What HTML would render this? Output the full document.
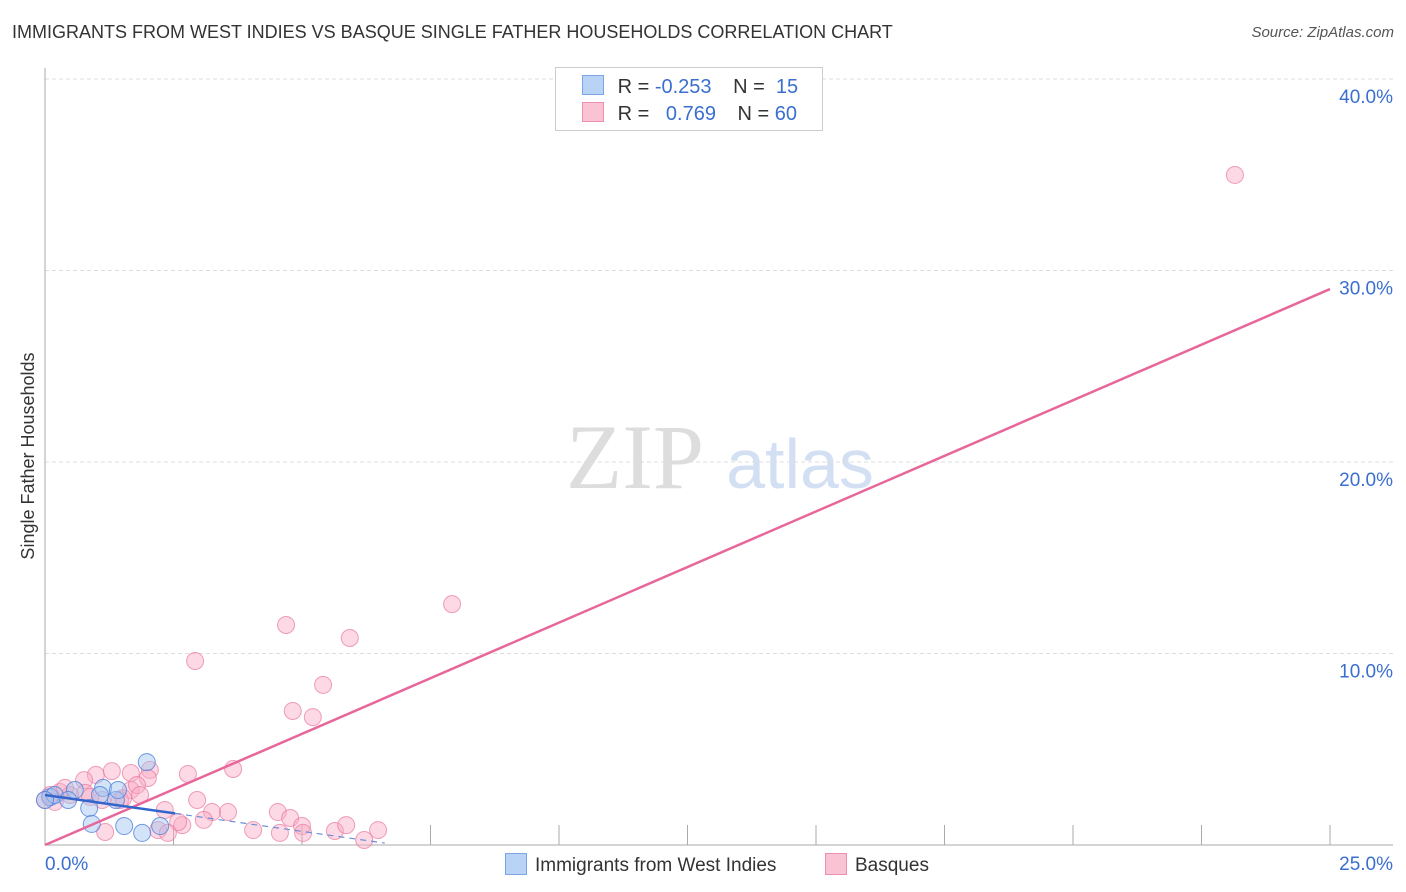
<!DOCTYPE html>
<html><head><meta charset="utf-8"><style>
body{margin:0;background:#fff;font-family:"Liberation Sans",sans-serif;}
#wrap{position:relative;width:1406px;height:892px;overflow:hidden;}
.t{position:absolute;white-space:nowrap;}
</style></head><body>
<div id="wrap">
<div class="t" style="left:12px;top:22px;font-size:18px;color:#333;">IMMIGRANTS FROM WEST INDIES VS BASQUE SINGLE FATHER HOUSEHOLDS CORRELATION CHART</div>
<div class="t" style="right:12px;top:24px;font-size:15px;color:#555;font-style:italic;">Source: ZipAtlas.com</div>
<svg id="svg" width="1406" height="892" style="position:absolute;left:0;top:0"></svg>
</div>
<script>
const yTicks=[10,20,30,40];
const yTickLabels=["10.0%","20.0%","30.0%","40.0%"];
const xTickVals=[0,2.5,5,7.5,10,12.5,15,17.5,20,22.5,25];
const blueX=[1.98,0.1,0.19,0.58,1.13,0.86,1.38,1.42,0.91,1.54,1.89,2.24,0.45,1.07,0.0];
const blueY=[4.33,2.5,2.61,2.87,2.98,1.93,2.35,2.87,1.1,0.99,0.63,0.99,2.35,2.61,2.35];
const pinkX=[23.15,7.92,4.69,5.93,2.92,5.41,4.82,5.21,3.66,2.78,0.99,0.76,1.30,1.67,2.04,2.00,1.67,1.79,1.46,1.11,1.52,0.29,0.49,0.78,0.10,2.33,2.96,3.25,3.56,3.09,2.67,2.59,2.20,2.39,1.17,4.05,4.57,4.53,4.77,5.00,5.02,5.64,5.86,6.21,6.48,0.19,0.39,0.88,1.85,0.0];
const pinkY=[34.99,12.58,11.49,10.81,9.61,8.36,7.0,6.68,3.97,3.71,3.66,3.39,3.86,3.76,3.92,3.50,2.87,3.13,2.35,2.35,2.45,2.77,2.61,2.72,2.61,1.83,2.35,1.72,1.72,1.31,1.04,1.20,0.78,0.63,0.68,0.78,0.63,1.72,1.41,0.99,0.63,0.73,1.04,0.26,0.78,2.25,2.98,2.51,2.61,2.35];
const blueTrend=[[0,2.61],[2.53,1.65],[6.61,0.1]];
const pinkTrend=[[0,0],[25,29.03]];
const X=v=>45+v*51.4, Y=v=>845-v*19.15;
const svg=document.getElementById('svg');const NS="http://www.w3.org/2000/svg";
function mk(tag,attrs,parent){const e=document.createElementNS(NS,tag);for(const k in attrs)e.setAttribute(k,attrs[k]);(parent||svg).appendChild(e);return e;}
// watermark
let w=mk('text',{x:635,y:488,'font-size':92,'font-family':'Liberation Serif, serif',fill:'#ddd','text-anchor':'middle'});w.textContent='ZIP';

let w2=mk('text',{x:800,y:488,'font-size':70,'font-family':'Liberation Sans, sans-serif',fill:'#d3e0f4','text-anchor':'middle'});w2.textContent='atlas';

yTicks.forEach((v,i)=>{
 const l=mk('line',{x1:45,x2:1393,y1:Y(v),y2:Y(v),stroke:'#ddd','stroke-dasharray':'4,3'});
 
 const t=mk('text',{x:1393,y:Y(v)+24,'font-size':19,fill:'#3a6fd0','text-anchor':'end'});t.textContent=yTickLabels[i];
 
});
const ax=mk('line',{x1:45,x2:45,y1:68,y2:845,stroke:'#aaa'});
const bx=mk('line',{x1:45,x2:1393,y1:845,y2:845,stroke:'#aaa'});
xTickVals.forEach(v=>{const l=mk('line',{x1:X(v),x2:X(v),y1:825,y2:845,stroke:'#aaa'});});
[[0,'start',45,'0.0%'],[25,'end',1393,'25.0%']].forEach(a=>{const t=mk('text',{x:a[2],y:870,'font-size':19,fill:'#3a6fd0','text-anchor':a[1]});t.textContent=a[3];});
const yt=mk('text',{x:0,y:0,'font-size':18,fill:'#333','text-anchor':'middle',transform:'translate(34,456) rotate(-90)'});yt.textContent='Single Father Households';

pinkX.forEach((x,i)=>{const c=mk('circle',{cx:X(x),cy:Y(pinkY[i]),r:8.5,fill:'rgba(248,170,195,0.45)',stroke:'rgba(232,120,160,0.7)','stroke-width':1});});
blueX.forEach((x,i)=>{const c=mk('circle',{cx:X(x),cy:Y(blueY[i]),r:8.5,fill:'rgba(160,195,240,0.45)',stroke:'rgba(80,130,220,0.8)','stroke-width':1});});
const pl=mk('line',{x1:X(pinkTrend[0][0]),y1:Y(pinkTrend[0][1]),x2:X(pinkTrend[1][0]),y2:Y(pinkTrend[1][1]),stroke:'#e8679a','stroke-width':2.5});

const b1=mk('line',{x1:X(blueTrend[0][0]),y1:Y(blueTrend[0][1]),x2:X(blueTrend[1][0]),y2:Y(blueTrend[1][1]),stroke:'#3366cc','stroke-width':2.5});

const b2=mk('line',{x1:X(blueTrend[1][0]),y1:Y(blueTrend[1][1]),x2:X(blueTrend[2][0]),y2:Y(blueTrend[2][1]),stroke:'#6b8fd6','stroke-width':1.2,'stroke-dasharray':'6,5'});

</script>
<div class="t" style="left:555px;top:67px;width:266px;height:62px;border:1px solid #ccc;background:#fff;font-size:20px;">
 <div style="position:absolute;left:26px;top:7px;">
  <span style="display:inline-block;width:20px;height:18px;background:#b9d3f7;border:1px solid #7aa6e6;vertical-align:-2px;"></span>
  <span style="color:#333;margin-left:8px;">R = </span><span style="color:#3a6fd0;">-0.253</span>
  <span style="color:#333;margin-left:16px;">N = </span><span style="color:#3a6fd0;">&nbsp;15</span></div>
 <div style="position:absolute;left:26px;top:34px;">
  <span style="display:inline-block;width:20px;height:18px;background:#f9c3d3;border:1px solid #ee8fb0;vertical-align:-2px;"></span>
  <span style="color:#333;margin-left:8px;">R = </span><span style="color:#3a6fd0;">&nbsp;&nbsp;0.769</span>
  <span style="color:#333;margin-left:16px;">N = </span><span style="color:#3a6fd0;">60</span></div>
</div>
<div class="t" style="left:505px;top:853px;font-size:19px;color:#333;">
 <span style="display:inline-block;width:20px;height:20px;background:#b9d3f7;border:1px solid #7aa6e6;vertical-align:-4px;margin-right:8px;"></span>Immigrants from West Indies</div>
<div class="t" style="left:825px;top:853px;font-size:19px;color:#333;">
 <span style="display:inline-block;width:20px;height:20px;background:#f9c3d3;border:1px solid #ee8fb0;vertical-align:-4px;margin-right:8px;"></span>Basques</div>
</body></html>
